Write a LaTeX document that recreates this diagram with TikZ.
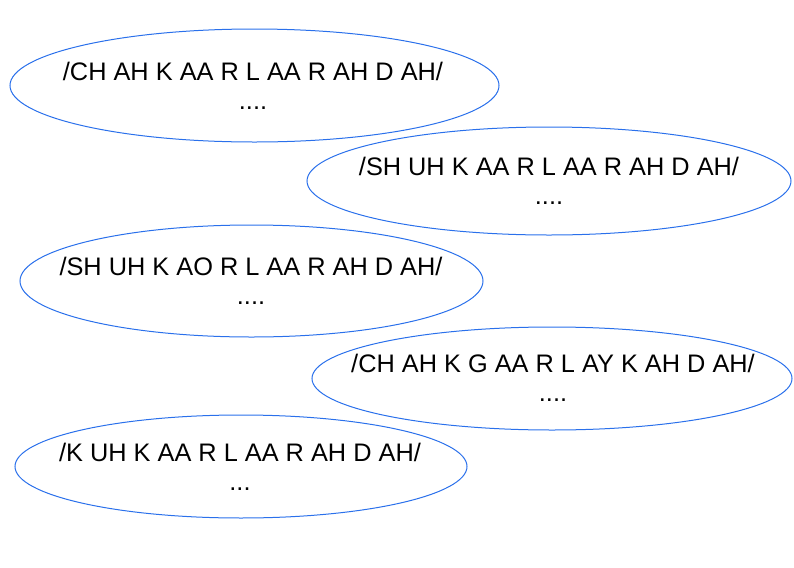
\documentclass[tikz,border=0pt]{standalone}
\usepackage{fontspec}
\setmainfont{Liberation Sans}
\usepackage{xcolor}
\usetikzlibrary{shapes.geometric}
\definecolor{pronblue}{RGB}{42,112,235}
\tikzset{
	pronoval/.style={ellipse,draw=pronblue,line width=0.75pt,inner sep=0pt},
	prontext/.style={align=center,font=\fontsize{19}{22}\selectfont,inner sep=0pt}
}

\begin{document}
\begin{tikzpicture}[x=0.75pt,y=-0.75pt]
	\useasboundingbox (0,0) rectangle (794,568);
	% ovals
	\node[pronoval,minimum width=489*0.75pt,minimum height=113*0.75pt] (o1) at (254.5,85.5) {};
	\node[pronoval,minimum width=484*0.75pt,minimum height=108*0.75pt] (o2) at (549,181) {};
	\node[pronoval,minimum width=463*0.75pt,minimum height=112*0.75pt] (o3) at (251.5,281) {};
	\node[pronoval,minimum width=480*0.75pt,minimum height=103*0.75pt] (o4) at (552,378.5) {};
	\node[pronoval,minimum width=452*0.75pt,minimum height=103*0.75pt] (o5) at (241,466.5) {};
	% transcriptions
	\node[prontext] (t1) at (253,86) {/CH AH K AA R L AA R AH D AH/\\....};
	\node[prontext] (t2) at (549,181) {/SH UH K AA R L AA R AH D AH/\\....};
	\node[prontext] (t3) at (251,281) {/SH UH K AO R L AA R AH D AH/\\....};
	\node[prontext] (t4) at (553,378) {/CH AH K G AA R L AY K AH D AH/\\....};
	\node[prontext] (t5) at (240,467) {/K UH K AA R L AA R AH D AH/\\...};
\end{tikzpicture}
\end{document}
